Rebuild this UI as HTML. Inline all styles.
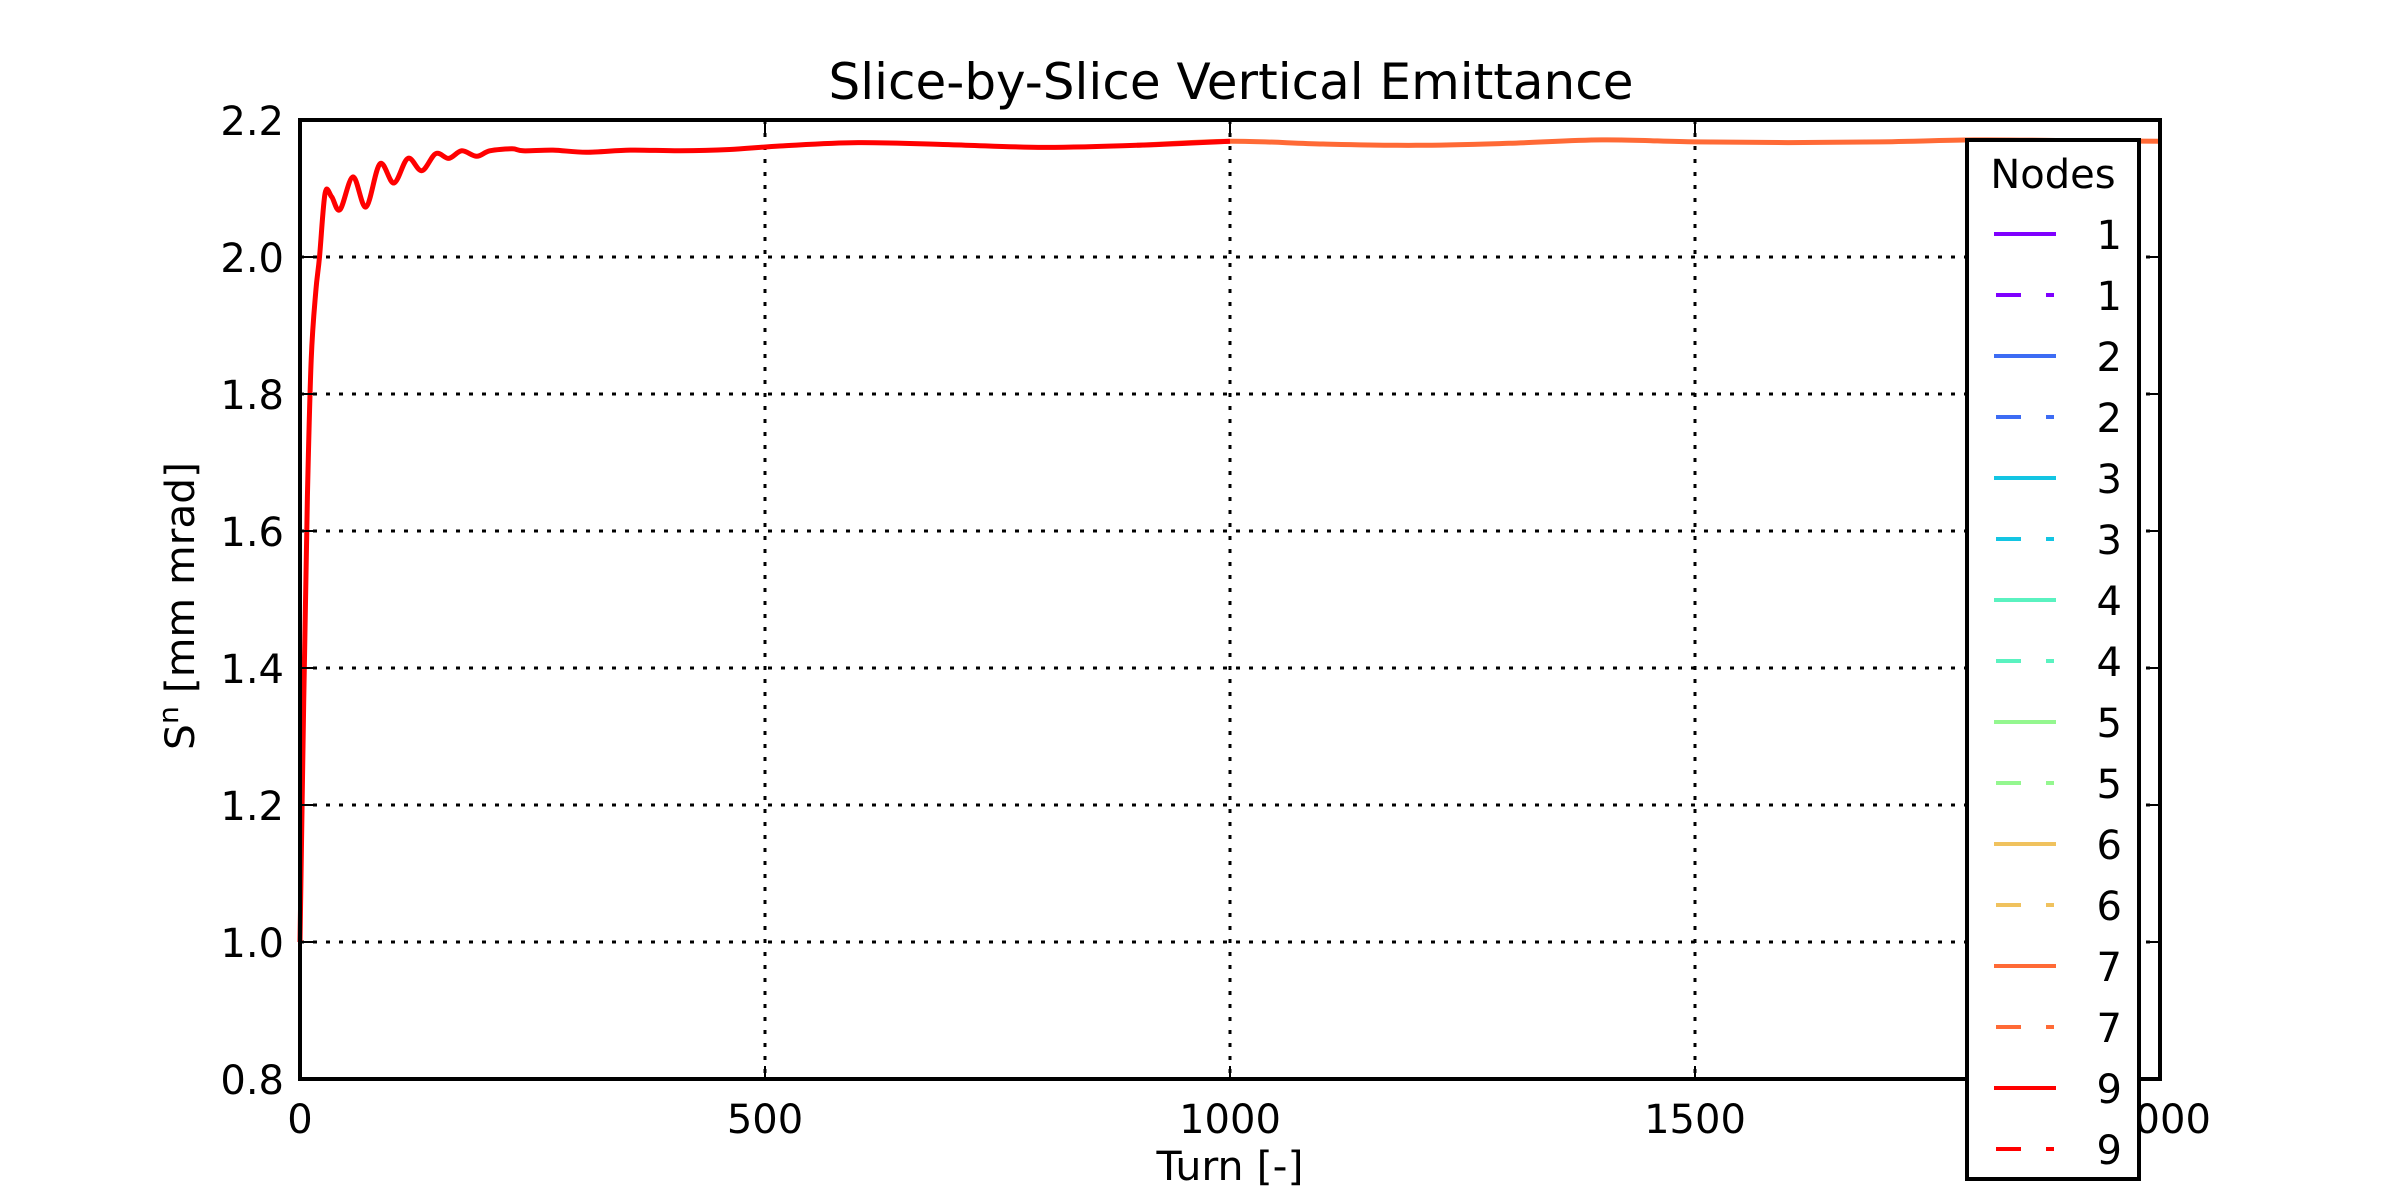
<!DOCTYPE html>
<html><head><meta charset="utf-8"><style>
html,body{margin:0;padding:0;background:#fff;}
svg{display:block;font-family:"DejaVu Sans","Liberation Sans",sans-serif;}
</style></head><body>
<svg id="chart" width="2400" height="1200" viewBox="0 0 2400 1200" xmlns="http://www.w3.org/2000/svg">
<rect x="0" y="0" width="2400" height="1200" fill="#fff"/>
<text x="1231" y="99" font-size="50" text-anchor="middle" textLength="805" lengthAdjust="spacingAndGlyphs">Slice-by-Slice Vertical Emittance</text>
<g id="grid"></g>
<g id="series"></g>
<g id="axes"></g>
<text x="1230" y="1180" font-size="40" text-anchor="middle" textLength="147" lengthAdjust="spacingAndGlyphs">Turn [-]</text>
<text transform="translate(194,606) rotate(-90)" font-size="40" text-anchor="middle" textLength="288" lengthAdjust="spacingAndGlyphs">S<tspan dy="-16" font-size="28">n</tspan><tspan dy="16"> [mm mrad]</tspan></text>
<g id="legend"></g>
</svg>
<script>
const xTicks = [0, 500, 1000, 1500, 2000];
const xTickLabels = ["0", "500", "1000", "1500", "2000"];
const yTicks = [0.8, 1.0, 1.2, 1.4, 1.6, 1.8, 2.0, 2.2];
const yTickLabels = ["0.8", "1.0", "1.2", "1.4", "1.6", "1.8", "2.0", "2.2"];
const turnsNode9 = [0, 4, 8, 12, 17, 21, 27, 34, 43, 57, 71, 86, 101, 116, 131, 146, 160, 174, 190, 204, 228, 240, 272, 308, 355, 409, 462, 516, 600, 700, 800, 900, 1000];
const valuesNode9 = [1.0, 1.35, 1.65, 1.85, 1.95, 2.0, 2.093, 2.088, 2.069, 2.117, 2.073, 2.136, 2.108, 2.144, 2.126, 2.151, 2.144, 2.155, 2.147, 2.155, 2.158, 2.155, 2.156, 2.153, 2.156, 2.155, 2.157, 2.162, 2.167, 2.164, 2.160, 2.163, 2.169];
const turnsNode7 = [900, 1000, 1100, 1200, 1300, 1400, 1500, 1600, 1700, 1800, 1900, 2000];
const valuesNode7 = [2.163, 2.169, 2.165, 2.163, 2.166, 2.171, 2.168, 2.167, 2.168, 2.171, 2.170, 2.169];
const legendLabels = ["1","1","2","2","3","3","4","4","5","5","6","6","7","7","9","9"];
const legendColors = ["#7f00ff","#7f00ff","#3d6cf4","#3d6cf4","#13c5e3","#13c5e3","#5af2c0","#5af2c0","#94f78f","#94f78f","#f0c25e","#f0c25e","#ff6a36","#ff6a36","#ff0000","#ff0000"];

const NS = "http://www.w3.org/2000/svg";
const L = 300, R = 2160, T = 120, B = 1079;
const xs = t => L + (t - 0) / 2000 * (R - L);
const ys = v => B - (v - 0.8) / 1.4 * (B - T);
function mk(tag, attrs, parent) {
  const e = document.createElementNS(NS, tag);
  for (const k in attrs) e.setAttribute(k, attrs[k]);
  parent.appendChild(e);
  return e;
}
const grid = document.getElementById('grid');
const axes = document.getElementById('axes');
const series = document.getElementById('series');
const legend = document.getElementById('legend');

xTicks.forEach((t, i) => {
  const x = xs(t);
  if (t > 0 && t < 2000) {
    const g = mk('line', {x1: x, x2: x, y1: T, y2: B, stroke: '#000', 'stroke-width': 3, 'stroke-dasharray': '4 9'}, grid);
    
    
  }
  const t1 = mk('line', {x1: x, x2: x, y1: B, y2: B - 13, stroke: '#000', 'stroke-width': 2}, axes);
  
  
  const t2 = mk('line', {x1: x, x2: x, y1: T, y2: T + 13, stroke: '#000', 'stroke-width': 2}, axes);
  
  
  const lb = mk('text', {x: x, y: 1133, 'font-size': 40, 'text-anchor': 'middle'}, axes);
  lb.textContent = xTickLabels[i];
  
  
});
yTicks.forEach((v, i) => {
  const y = ys(v);
  if (v > 0.85 && v < 2.15) {
    const g = mk('line', {x1: L, x2: R, y1: y, y2: y, stroke: '#000', 'stroke-width': 3, 'stroke-dasharray': '4 9'}, grid);
    
    
  }
  const t1 = mk('line', {x1: L, x2: L + 13, y1: y, y2: y, stroke: '#000', 'stroke-width': 2}, axes);
  
  
  const t2 = mk('line', {x1: R, x2: R - 13, y1: y, y2: y, stroke: '#000', 'stroke-width': 2}, axes);
  
  
  const lb = mk('text', {x: 284, y: y + 15, 'font-size': 40, 'text-anchor': 'end'}, axes);
  lb.textContent = yTickLabels[i];
  
  
});
const frame = mk('rect', {x: L, y: T, width: R - L, height: B - T, fill: 'none', stroke: '#000', 'stroke-width': 4}, axes);



function smoothPath(ts, vs) {
  const p = ts.map((t, i) => [xs(t), ys(vs[i])]);
  let d = 'M' + p[0][0].toFixed(1) + ' ' + p[0][1].toFixed(1);
  for (let i = 0; i < p.length - 1; i++) {
    const p0 = p[Math.max(0, i - 1)], p1 = p[i], p2 = p[i + 1], p3 = p[Math.min(p.length - 1, i + 2)];
    const c1 = [p1[0] + (p2[0] - p0[0]) / 6, p1[1] + (p2[1] - p0[1]) / 6];
    const c2 = [p2[0] - (p3[0] - p1[0]) / 6, p2[1] - (p3[1] - p1[1]) / 6];
    d += ' C' + c1[0].toFixed(1) + ' ' + c1[1].toFixed(1) + ' ' + c2[0].toFixed(1) + ' ' + c2[1].toFixed(1) + ' ' + p2[0].toFixed(1) + ' ' + p2[1].toFixed(1);
  }
  return d;
}
const s7 = mk('path', {d: smoothPath(turnsNode7, valuesNode7), fill: 'none', stroke: '#ff6a36', 'stroke-width': 5, 'stroke-linejoin': 'round'}, series);


const s9 = mk('path', {d: smoothPath(turnsNode9, valuesNode9), fill: 'none', stroke: '#ff0000', 'stroke-width': 5, 'stroke-linejoin': 'round'}, series);



const box = mk('rect', {x: 1967, y: 140, width: 172, height: 1039, fill: '#fff', stroke: '#000', 'stroke-width': 4}, legend);


const lt = mk('text', {x: 2053, y: 188, 'font-size': 40, 'text-anchor': 'middle'}, legend);
lt.textContent = 'Nodes';


legendLabels.forEach((lab, i) => {
  const y = 234 + 61 * i;
  const dashed = i % 2 === 1;
  const attrs = {x1: dashed ? 1996 : 1994, x2: dashed ? 2054 : 2056, y1: y, y2: y, stroke: legendColors[i], 'stroke-width': 4};
  if (dashed) attrs['stroke-dasharray'] = '25 25 8 100';
  const ln = mk('line', attrs, legend);
  
  
  const tx = mk('text', {x: 2122, y: y + 15, 'font-size': 40, 'text-anchor': 'end'}, legend);
  tx.textContent = lab;
  
  
});
</script>
</body></html>
